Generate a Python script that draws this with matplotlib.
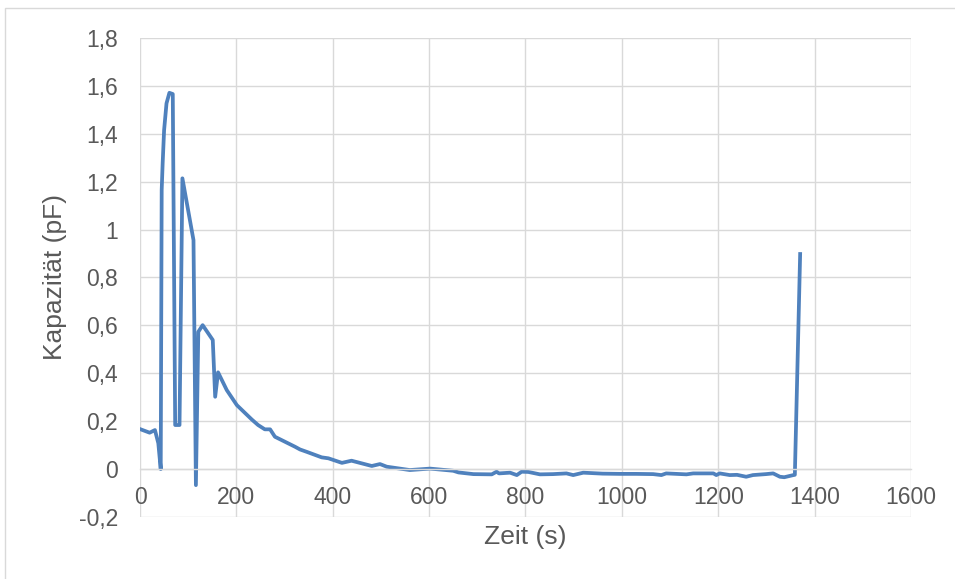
import numpy as np
from matplotlib import pyplot as plt
from matplotlib.patches import Rectangle

plt.rcParams['font.family'] = ['Liberation Sans', 'DejaVu Sans']

zeit = [0, 20, 31, 38, 43, 45, 47, 50, 55, 61, 68, 73, 82, 88, 111, 116, 121, 130,
        151, 156, 162, 180, 201, 232, 245, 259, 270, 280, 294, 322, 332, 346, 377,
        391, 419, 439, 481, 498, 512, 560, 602, 650, 661, 692, 730, 740, 745, 768,
        782, 792, 806, 830, 857, 885, 899, 920, 940, 960, 996, 1030, 1065, 1082,
        1092, 1134, 1148, 1190, 1196, 1203, 1224, 1239, 1258, 1272, 1299, 1314,
        1328, 1337, 1356, 1359, 1370]
kapazitaet = [0.167, 0.152, 0.163, 0.108, 0.0, 1.165, 1.276, 1.415, 1.527, 1.571,
              1.566, 0.184, 0.184, 1.214, 0.956, -0.067, 0.573, 0.601, 0.539, 0.302,
              0.404, 0.330, 0.267, 0.207, 0.184, 0.166, 0.166, 0.135, 0.121, 0.093,
              0.082, 0.072, 0.049, 0.045, 0.026, 0.035, 0.013, 0.021, 0.010, -0.004,
              0.002, -0.007, -0.014, -0.021, -0.022, -0.011, -0.018, -0.015, -0.025,
              -0.011, -0.012, -0.022, -0.021, -0.018, -0.025, -0.015, -0.017, -0.019,
              -0.020, -0.020, -0.021, -0.025, -0.018, -0.022, -0.018, -0.018, -0.025,
              -0.018, -0.025, -0.024, -0.032, -0.025, -0.021, -0.018, -0.032, -0.034,
              -0.025, -0.024, 0.898]

xticks = np.arange(0, 1601, 200)
yticks = np.arange(-0.2, 1.81, 0.2)

grey = '#D9D9D9'
textcol = '#595959'

fig = plt.figure(figsize=(9.55, 5.79), dpi=100)
ax = fig.add_axes([0.1466, 0.1071, 0.8073, 0.8273])

# outer chart border (only top and left visible)
fig.patches.append(Rectangle((5/955, -0.5), 2, 1.5 - 8/579, transform=fig.transFigure,
                             fill=False, edgecolor=grey, linewidth=1.0))

ax.plot(zeit, kapazitaet, color='#4F81BD', linewidth=2.7, solid_joinstyle='round')

ax.set_xlim(0, 1600)
ax.set_ylim(-0.2, 1.8)
ax.set_xticks(xticks)
ax.set_yticks(yticks)
ax.set_yticklabels([('%.1f' % v).replace('.', ',').replace(',0', '') if abs(v) > 1e-9 else '0'
                    for v in yticks])
ax.grid(True, color=grey, linewidth=1.0)
ax.set_axisbelow(True)

for s in ['top', 'right', 'left']:
    ax.spines[s].set_visible(False)
ax.spines['bottom'].set_position(('data', 0))
ax.spines['bottom'].set_color(grey)
ax.spines['bottom'].set_linewidth(1.0)

ax.tick_params(axis='x', length=0, pad=12, labelsize=16.5, labelcolor=textcol)
ax.tick_params(axis='y', length=0, pad=16, labelsize=16.5, labelcolor=textcol)

fig.text(525/955, 1 - 537/579, 'Zeit (s)', ha='center', va='center', fontsize=19, color=textcol)
fig.text(55/955, 1 - 277/579, 'Kapazität (pF)', ha='center', va='center', rotation=90,
         fontsize=19, color=textcol)

fig.savefig('out.png', dpi=100)
